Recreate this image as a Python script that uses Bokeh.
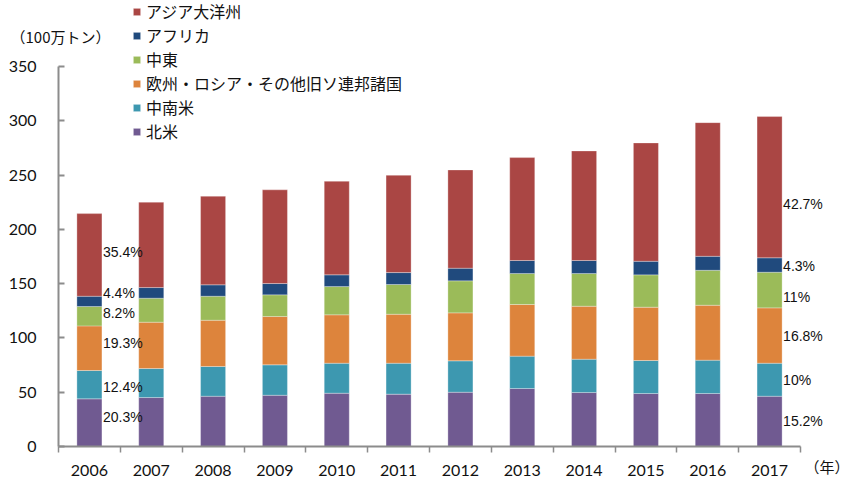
from bokeh.plotting import figure
from bokeh.models import (FixedTicker, Range1d, Legend, LegendItem, Label, ColumnDataSource)
from bokeh.core.properties import value
from bokeh.embed import file_html
from bokeh.resources import INLINE

# ---- data (million tonnes) ----
years = ["2006", "2007", "2008", "2009", "2010", "2011", "2012", "2013", "2014", "2015", "2016", "2017"]
north_america = [43.9, 45.1, 46.3, 47.2, 49.1, 48.2, 50.0, 53.4, 49.7, 48.8, 48.8, 46.3]
latin_america = [26.1, 26.7, 27.4, 28.0, 27.6, 28.5, 28.9, 29.8, 30.7, 30.4, 30.7, 30.4]
europe_cis = [41.1, 42.7, 42.6, 44.5, 44.6, 45.1, 44.2, 47.6, 48.8, 49.1, 50.6, 51.0]
middle_east = [17.8, 22.1, 22.1, 20.0, 26.0, 27.4, 29.5, 28.5, 30.1, 29.8, 32.2, 32.8]
africa = [9.5, 9.8, 10.5, 10.4, 10.8, 11.0, 11.6, 12.0, 12.0, 12.5, 12.9, 13.3]
asia_oceania = [76.1, 78.6, 81.6, 86.3, 86.2, 89.6, 90.5, 94.8, 100.9, 109.0, 123.1, 130.1]

series_names = ["北米", "中南米", "欧州・ロシア・その他旧ソ連邦諸国", "中東", "アフリカ", "アジア大洋州"]
pct_2006 = ["20.3%", "12.4%", "19.3%", "8.2%", "4.4%", "35.4%"]
pct_2017 = ["15.2%", "10%", "16.8%", "11%", "4.3%", "42.7%"]
y_ticks = [0, 50, 100, 150, 200, 250, 300, 350]

# ---- styles / layout ----
colors = ["#705A91", "#3D98B0", "#DD843C", "#9BBB59", "#204A7D", "#AA4644"]
off_2006 = [-6, 2, -5, -3, -8, -3]
off_2017 = [0, 0, 0, 7, 1, 17]
BAR_W = 0.405
JP = "Noto Sans CJK JP"
NUM = "Lato"
PCT = "Liberation Sans Narrow, Liberation Sans, sans-serif"
AXIS_C = "#8C8C8C"
W, H = 851, 484
AX_L, AX_R, AX_T, AX_B = 58, 800, 66, 446   # pixel box of the axes

n = len(years)
ymax = y_ticks[-1]
xpx = (AX_R - AX_L) / n
ypx = (AX_B - AX_T) / ymax
x_range = Range1d(-AX_L / xpx, n + (W - AX_R) / xpx)
y_range = Range1d(-(H - AX_B) / ypx, ymax + AX_T / ypx)

series = [north_america, latin_america, europe_cis, middle_east, africa, asia_oceania]
keys = ["s%d" % i for i in range(len(series))]
xs = [i + 0.5 for i in range(n)]
data = {"x": xs}
for k, s in zip(keys, series):
    data[k] = s
source = ColumnDataSource(data)

p = figure(width=W, height=H, output_backend="svg", toolbar_location=None,
           x_range=x_range, y_range=y_range, min_border=0)
p.outline_line_color = None
p.xgrid.visible = False
p.ygrid.visible = False

renderers = p.vbar_stack(keys, x="x", width=BAR_W, source=source, color=colors,
                         line_color="white", line_alpha=0.5, line_width=0.6)

# axes (drawn at data zero, inside the frame)
p.yaxis.fixed_location = 0
p.yaxis.bounds = (0, ymax)
p.yaxis.ticker = FixedTicker(ticks=y_ticks)
p.yaxis.major_tick_in = 6
p.yaxis.major_tick_out = 0
p.yaxis.minor_tick_line_color = None
p.yaxis.major_label_standoff = 22
p.yaxis.axis_line_color = AXIS_C
p.yaxis.axis_line_width = 2
p.yaxis.major_tick_line_color = AXIS_C
p.yaxis.major_tick_line_width = 2
p.yaxis.major_label_text_font = NUM
p.yaxis.major_label_text_font_size = "16px"
p.yaxis.major_label_text_color = "#111111"

p.xaxis.fixed_location = 0
p.xaxis.bounds = (0, n)
p.xaxis.ticker = FixedTicker(ticks=xs, minor_ticks=list(range(n + 1)))
p.xaxis.major_label_overrides = {x: y for x, y in zip(xs, years)}
p.xaxis.major_tick_out = 0
p.xaxis.major_tick_in = 0
p.xaxis.minor_tick_out = 6
p.xaxis.minor_tick_in = 0
p.xaxis.minor_tick_line_color = AXIS_C
p.xaxis.minor_tick_line_width = 1.5
p.xaxis.axis_line_color = AXIS_C
p.xaxis.axis_line_width = 2
p.xaxis.major_label_standoff = 12
p.xaxis.major_label_text_font = NUM
p.xaxis.major_label_text_font_size = "16px"
p.xaxis.major_label_text_color = "#111111"

# percentage labels (2006 and 2017)
def seg_mids(idx):
    mids, base = [], 0.0
    for s in series:
        mids.append(base + s[idx] / 2.0)
        base += s[idx]
    return mids

for idx, texts, offs in [(0, pct_2006, off_2006), (n - 1, pct_2017, off_2017)]:
    src = ColumnDataSource(dict(x=[xs[idx] + BAR_W / 2] * len(texts), y=seg_mids(idx),
                                t=texts, off=offs))
    p.text(x="x", y="y", text="t", y_offset="off", x_offset=1, source=src,
           text_font=value(PCT), text_font_size="14px", text_color="#111111",
           text_baseline="middle", text_align="left")

# legend (reverse order: アジア大洋州 on top)
items = [LegendItem(label=nm, renderers=[r]) for nm, r in zip(series_names, renderers)][::-1]
legend = Legend(items=items, location=(132, 341), padding=0, margin=0, spacing=0,
                glyph_width=9, glyph_height=9, label_standoff=5,
                label_text_font=JP, label_text_font_size="16px", label_text_color="#111111",
                label_height=20, border_line_color=None, background_fill_alpha=0)
p.add_layout(legend, "center")

p.add_layout(Label(x=10, y=H - 36, x_units="screen", y_units="screen", text="（100万トン）",
                   text_font=JP, text_font_size="15px", text_color="#111111",
                   text_baseline="middle"))
p.add_layout(Label(x=804, y=H - 466, x_units="screen", y_units="screen", text="（年）",
                   text_font=JP, text_font_size="15px", text_color="#111111",
                   text_baseline="middle"))

open("out.html", "w").write(file_html(p, INLINE))
